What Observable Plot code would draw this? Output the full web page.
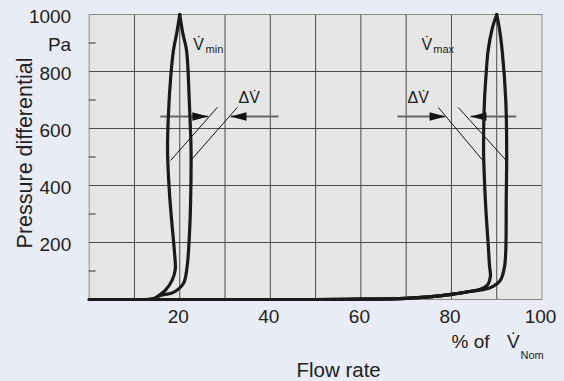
<!DOCTYPE html>
<html><head><meta charset="utf-8">
<script src="https://cdn.jsdelivr.net/npm/d3@7"></script>
<script src="https://cdn.jsdelivr.net/npm/@observablehq/plot@0.6"></script>
<style>
html,body{margin:0;padding:0;background:#e9ebf5;}
#chart{width:564px;height:381px;overflow:hidden;}
</style></head><body><div id="chart"></div>
<script>
// ---- axes / ticks ----
const xGridValues = [10, 20, 30, 40, 50, 60, 70, 80, 90];
const yGridValues = [200, 400, 600, 800];
const yMinorTicks = [100, 300, 500, 700, 900];
const xTickValues = [20, 40, 60, 80, 100];
const xTickLabels = ["20", "40", "60", "80", "100"];
const yTickValues = [1000, 900, 800, 600, 400, 200];
const yTickLabels = ["1000", "Pa", "800", "600", "400", "200"];

// ---- curves (flow rate %, pressure Pa) ----
const baseX = [0, 14, 30, 50, 60, 70, 75, 80, 84];
const baseY = [0, 0, 0, 0, 1, 4, 9, 18, 28];

const minInnerX = [12.5, 14.2, 15.2, 16.8, 18.3, 19.0, 18.8, 18.3, 17.7, 17.3, 17.5, 18.0, 18.6, 19.3, 20.0];
const minInnerY = [0, 2, 12, 32, 67, 105, 172, 260, 380, 523, 650, 780, 874, 932, 1000];
const minOuterX = [12.5, 14.2, 15.7, 18.6, 20.8, 21.6, 22.2, 22.4, 22.5, 22.3, 22.1, 21.5, 20.7, 20.0];
const minOuterY = [0, 3, 14, 25, 56, 112, 250, 347, 523, 620, 698, 874, 932, 1000];

const maxInnerX = [86.4, 88.0, 88.6, 88.4, 88.2, 87.5, 87.1, 87.3, 87.7, 88.1, 89.0, 90.0];
const maxInnerY = [36, 52, 80, 120, 172, 347, 523, 698, 800, 874, 950, 1000];
const maxOuterX = [87.0, 89.2, 90.8, 91.7, 92.0, 92.1, 92.2, 92.0, 91.2, 90.6, 90.0];
const maxOuterY = [34, 46, 67, 113, 172, 347, 523, 698, 874, 950, 1000];

// ---- annotations ----
const arrowLineX1 = [15.7, 31.2, 68.1, 84.2];
const arrowLineX2 = [26.3, 41.8, 78.7, 94.3];
const arrowY = [642, 642, 642, 642];
const arrowTipX = [26.3, 31.2, 78.7, 84.2];
const arrowTipRotate = [0, 180, 0, 180];

const diagX1 = [18.0, 22.6, 77.1, 81.5];
const diagY1 = [488, 491, 674, 674];
const diagX2 = [28.3, 32.7, 87.3, 92.1];
const diagY2 = [674, 674, 481, 488];

const vLabelX = [23.0, 73.4];
const vLabelY = [877, 877];
const vSubX = [25.7, 76.0];
const vSubY = [866, 866];
const vSubText = ["min", "max"];
const deltaX = [33.0, 70.3];
const deltaY = [688, 688];

// ---- build tables ----
const rows = (xs, ys, s) => xs.map((x, i) => ({x, y: ys[i], s}));
const curveData = [
  ...rows(baseX, baseY, "base"),
  ...rows(minInnerX, minInnerY, "minInner"),
  ...rows(minOuterX, minOuterY, "minOuter"),
  ...rows([...baseX, ...maxInnerX], [...baseY, ...maxInnerY], "maxInner"),
  ...rows([...baseX, ...maxOuterX], [...baseY, ...maxOuterY], "maxOuter")
];
const arrowLines = arrowLineX1.map((x1, i) => ({x1, x2: arrowLineX2[i], y: arrowY[i]}));
const arrowTips = arrowTipX.map((x, i) => ({x, y: arrowY[i], r: arrowTipRotate[i]}));
const diags = diagX1.map((x1, i) => ({x1, y1: diagY1[i], x2: diagX2[i], y2: diagY2[i]}));
const yLabels = yTickValues.map((v, i) => ({v, t: yTickLabels[i]}));
const xLabels = xTickValues.map((v, i) => ({v, t: xTickLabels[i]}));

const arrowHead = {
  draw(ctx) { ctx.moveTo(0, 0); ctx.lineTo(-16, -4.2); ctx.lineTo(-16, 4.2); ctx.closePath(); }
};

const ink = "#222";
const font = "Liberation Sans, Arial, Helvetica, sans-serif";

const chart = Plot.plot({
  width: 564,
  height: 381,
  marginLeft: 88.7,
  marginRight: 22.5,
  marginTop: 14,
  marginBottom: 82,
  style: {background: "transparent", fontFamily: font, color: ink},
  x: {domain: [0, 100], axis: null},
  y: {domain: [0, 1000], axis: null},
  marks: [
    Plot.frame({fill: "#e6e6e6", stroke: null}),
    Plot.gridX(xGridValues, {stroke: "#4a4a4a", strokeOpacity: 1, strokeWidth: 1}),
    Plot.gridY(yGridValues, {stroke: "#4a4a4a", strokeOpacity: 1, strokeWidth: 1}),
    Plot.frame({stroke: "#8a8a8a", strokeWidth: 1}),
    Plot.axisY(yMinorTicks, {anchor: "left", tickSize: -7, tickFormat: () => "", stroke: "#333"}),
    // axis labels
    Plot.text(yLabels, {y: "v", text: "t", frameAnchor: "left", textAnchor: "end", dx: -18, dy: 2, fontSize: 19, fill: ink}),
    Plot.text(xLabels, {x: "v", text: "t", frameAnchor: "bottom", lineAnchor: "top", dx: -1.5, dy: 10, fontSize: 19, fill: ink}),
    Plot.text(["Pressure differential"], {frameAnchor: "left", textAnchor: "middle", lineAnchor: "middle", rotate: -90, dx: -64, dy: -4, fontSize: 21.5, fill: ink}),
    Plot.text(["Flow rate"], {frameAnchor: "bottom", lineAnchor: "bottom", dx: 23, dy: 77, fontSize: 20.5, fill: ink}),
    Plot.text(["% of"], {frameAnchor: "bottom-right", textAnchor: "start", lineAnchor: "bottom", dx: -90.5, dy: 48, fontSize: 19, fill: ink}),
    Plot.text(["V\u0307"], {frameAnchor: "bottom-right", textAnchor: "start", lineAnchor: "bottom", dx: -35, dy: 48, fontSize: 19, fill: ink}),
    Plot.text(["Nom"], {frameAnchor: "bottom-right", textAnchor: "start", lineAnchor: "bottom", dx: -21.5, dy: 59, fontSize: 11, fill: ink}),
    // annotation lines
    Plot.link(diags, {x1: "x1", y1: "y1", x2: "x2", y2: "y2", stroke: "#111", strokeWidth: 1}),
    Plot.link(arrowLines, {x1: "x1", x2: "x2", y1: "y", y2: "y", stroke: "#666", strokeWidth: 2}),
    Plot.dot(arrowTips, {x: "x", y: "y", rotate: "r", symbol: arrowHead, r: 4, fill: "#111", stroke: null}),
    // curves
    Plot.line(curveData, {x: "x", y: "y", z: "s", curve: "catmull-rom", stroke: "#1a1a1a", strokeWidth: 3.2, strokeLinejoin: "round", strokeLinecap: "round"}),
    // annotation text
    Plot.text(vLabelX.map((x, i) => ({x, y: vLabelY[i]})), {x: "x", y: "y", text: () => "V\u0307", textAnchor: "start", lineAnchor: "bottom", fontSize: 16, fill: ink}),
    Plot.text(vSubX.map((x, i) => ({x, y: vSubY[i], t: vSubText[i]})), {x: "x", y: "y", text: "t", textAnchor: "start", lineAnchor: "bottom", fontSize: 11, fill: ink}),
    Plot.text(deltaX.map((x, i) => ({x, y: deltaY[i]})), {x: "x", y: "y", text: () => "\u0394V\u0307", textAnchor: "start", lineAnchor: "bottom", fontSize: 16, fill: ink})
  ]
});
document.getElementById("chart").appendChild(chart);
</script>
</body></html>
